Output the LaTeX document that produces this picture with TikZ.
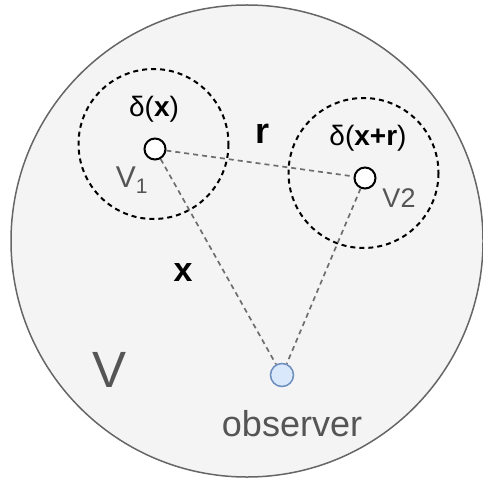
\documentclass[tikz,border=0pt]{standalone}
\usepackage{fontspec}
\setmainfont{Liberation Sans}
\begin{document}
\begin{tikzpicture}[x=1bp,y=-1bp,
  pt/.style={circle,draw=black,fill=white,line width=2bp,minimum size=21bp,inner sep=0pt},
  obs/.style={circle,draw=obsline,fill=obsfill,line width=1.5bp,minimum size=23bp,inner sep=0pt},
  region/.style={draw=black,dashed,line width=2bp,dash pattern=on 5bp off 4bp},
  link/.style={draw=linkgray,line width=1.7bp,dash pattern=on 5bp off 4bp},
  lbl/.style={inner sep=0pt,anchor=center}]
\definecolor{obsline}{HTML}{6C8EBF}
\definecolor{obsfill}{HTML}{DAE8FC}
\definecolor{linkgray}{HTML}{6E6E6E}
\definecolor{bgfill}{HTML}{F4F4F4}
\definecolor{outline}{HTML}{666666}
\definecolor{txtgray}{HTML}{555555}
\useasboundingbox (0,0) rectangle (483,482);
% outer volume
\draw[fill=bgfill,draw=outline,line width=1.5bp] (247,241) circle[radius=236];
% dashed regions
\draw[region] (153.5,144) circle[radius=75];
\draw[region] (363.5,173) circle[radius=75];
% points
\node[pt] (v1) at (155,149) {};
\node[pt] (v2) at (365,178) {};
\node[obs] (ob) at (282,375) {};
% connectors
\draw[link] (v1) -- (v2);
\draw[link] (v1) -- (ob);
\draw[link] (v2) -- (ob);
% labels
\node[lbl] (dx) at (154,109) {\fontsize{28bp}{30bp}\selectfont δ(\textbf{x})};
\node[lbl] (dxr) at (368,138) {\fontsize{28bp}{30bp}\selectfont δ(\textbf{x+r})};
\node[lbl] (rl) at (262,134) {\fontsize{36bp}{38bp}\selectfont\textbf{r}};
\node[lbl] (xl) at (183,273) {\fontsize{34bp}{36bp}\selectfont\textbf{x}};
\node[lbl,text=txtgray] (v1l) at (132,180) {\fontsize{30bp}{32bp}\selectfont V$_{\mathrm{1}}$};
\node[lbl,text=txtgray] (v2l) at (399,198) {\fontsize{27bp}{29bp}\selectfont V2};
\node[lbl,text=txtgray] (vl) at (110,370) {\fontsize{51bp}{53bp}\selectfont V};
\node[lbl,text=txtgray] (obl) at (292,424) {\fontsize{36bp}{38bp}\selectfont observer};
\end{tikzpicture}
\end{document}
